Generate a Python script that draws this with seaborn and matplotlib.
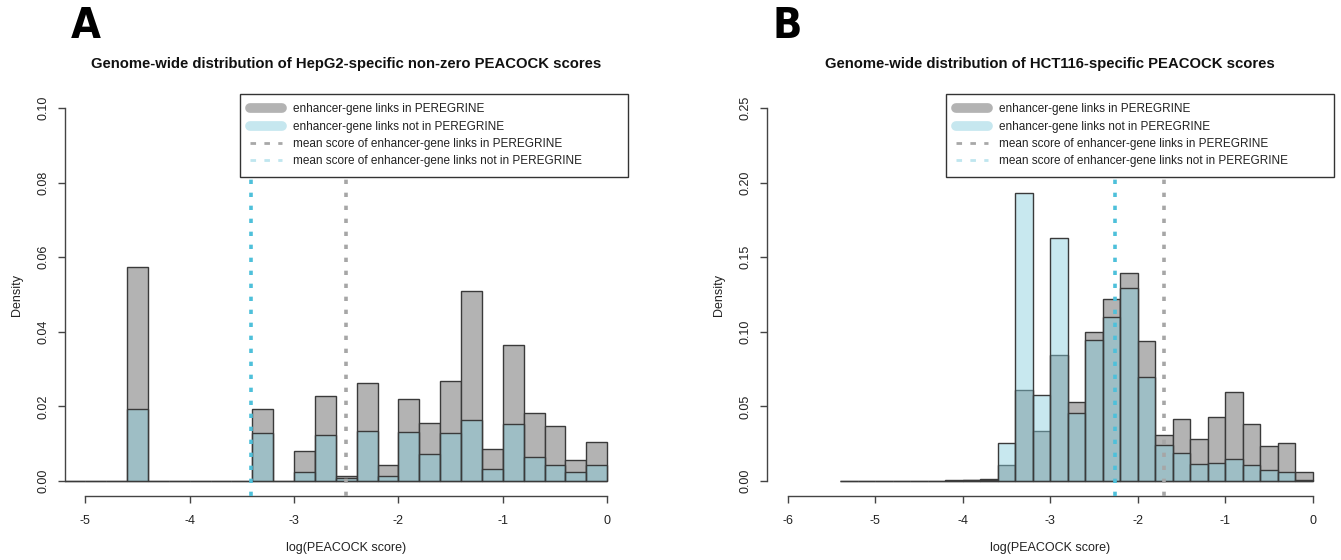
import numpy as np
import pandas as pd
import matplotlib
matplotlib.use("Agg")
import matplotlib.pyplot as plt
import matplotlib.font_manager as fm
import seaborn as sns
from matplotlib.lines import Line2D

sns.set_style("white")
plt.rcParams["font.family"] = ["Liberation Sans", "DejaVu Sans"]

# ---------------- data ----------------
# Panel A: HepG2-specific non-zero PEACOCK scores (bin edges, density per bin)
a_edges = [-5.2, -5.0, -4.8, -4.6, -4.4, -4.2, -4.0, -3.8, -3.6, -3.4, -3.2, -3.0, -2.8,
           -2.6, -2.4, -2.2, -2.0, -1.8, -1.6, -1.4, -1.2, -1.0, -0.8, -0.6, -0.4, -0.2, 0.0]
a_in = [0, 0, 0, 0.0573, 0, 0, 0, 0, 0, 0.0192, 0, 0.0081, 0.0229,
        0.0013, 0.0264, 0.0043, 0.0220, 0.0155, 0.0267, 0.0510, 0.0085, 0.0365,
        0.0182, 0.0147, 0.0057, 0.0106]
a_not = [0, 0, 0, 0.0192, 0, 0, 0, 0, 0, 0.0128, 0, 0.0023, 0.0123,
         0.0008, 0.0135, 0.0013, 0.0132, 0.0072, 0.0128, 0.0165, 0.0032, 0.0153,
         0.0065, 0.0043, 0.0023, 0.0042]
a_mean_in = -2.50
a_mean_not = -3.41

# Panel B: HCT116-specific PEACOCK scores
b_edges = [-5.4, -5.2, -5.0, -4.8, -4.6, -4.4, -4.2, -4.0, -3.8, -3.6, -3.4, -3.2, -3.0, -2.8,
           -2.6, -2.4, -2.2, -2.0, -1.8, -1.6, -1.4, -1.2, -1.0, -0.8, -0.6, -0.4, -0.2, 0.0]
b_in = [0, 0, 0, 0, 0, 0, 0.0004, 0.0008, 0.0015, 0.0109, 0.0608, 0.0334, 0.0844, 0.0528,
        0.0998, 0.1217, 0.1395, 0.0938, 0.0312, 0.0419, 0.0283, 0.0432, 0.0599,
        0.0385, 0.0232, 0.0252, 0.0062]
b_not = [0, 0, 0, 0, 0, 0, 0.0002, 0.0004, 0.0008, 0.0252, 0.1930, 0.0575, 0.1631, 0.0457,
         0.0942, 0.1096, 0.1292, 0.0700, 0.0241, 0.0189, 0.0114, 0.0118, 0.0147,
         0.0107, 0.0071, 0.0060, 0.0008]
b_mean_in = -1.70
b_mean_not = -2.26

a_xticks = [-5, -4, -3, -2, -1, 0]
a_yticks = [0.00, 0.02, 0.04, 0.06, 0.08, 0.10]
b_xticks = [-6, -5, -4, -3, -2, -1, 0]
b_yticks = [0.00, 0.05, 0.10, 0.15, 0.20, 0.25]

title_a = "Genome-wide distribution of HepG2-specific non-zero PEACOCK scores"
title_b = "Genome-wide distribution of HCT116-specific PEACOCK scores"
legend_labels = ["enhancer-gene links in PEREGRINE",
                 "enhancer-gene links not in PEREGRINE",
                 "mean score of enhancer-gene links in PEREGRINE",
                 "mean score of enhancer-gene links not in PEREGRINE"]

# ---------------- style ----------------
W, H = 1341, 560
GRAY = "#B3B3B3"
BLUE_FACE = (133 / 255, 204 / 255, 220 / 255, 0.45)
EDGE = "#3A3A3A"
AXC = "#444444"
TXT = "#222222"


def _weight(w):
    if isinstance(w, (int, float)):
        return int(w)
    return fm.weight_dict.get(str(w).lower(), 400)


def letter_font(size):
    """Heavy condensed face for the panel letters, if one is installed."""
    prefs = ["Noto Sans", "Open Sans", "Roboto", "DejaVu Sans", "Liberation Sans"]
    best = None
    for f in fm.fontManager.ttflist:
        st = str(f.stretch).lower()
        if ("condensed" in st) and _weight(f.weight) >= 700 and "italic" not in str(f.style):
            rank = (prefs.index(f.name) if f.name in prefs else 99, -_weight(f.weight))
            if best is None or rank < best[0]:
                best = (rank, f.fname)
    if best is not None:
        return fm.FontProperties(fname=best[1], size=size)
    return fm.FontProperties(family="DejaVu Sans", weight="heavy", size=size)


fig = plt.figure(figsize=(W / 100, H / 100), dpi=100)


def px_rect(x0, y0, x1, y1):
    return [x0 / W, 1 - y1 / H, (x1 - x0) / W, (y1 - y0) / H]


def panel(rect, edges, v_in, v_not, m_in, m_not, xlim, ylim, xticks, yticks,
          title, letter, letter_x):
    ax = fig.add_axes(px_rect(*rect))
    e = np.asarray(edges, dtype=float)
    centers = (e[:-1] + e[1:]) / 2
    df_in = pd.DataFrame({"score": centers, "density": v_in})
    df_not = pd.DataFrame({"score": centers, "density": v_not})
    bins = list(edges)
    sns.histplot(data=df_in, x="score", weights="density", bins=bins, stat="count",
                 ax=ax, facecolor=GRAY, edgecolor=EDGE, linewidth=1.0, zorder=2)
    sns.histplot(data=df_not, x="score", weights="density", bins=bins, stat="count",
                 ax=ax, facecolor=BLUE_FACE, edgecolor=EDGE, linewidth=1.0, zorder=3)
    ax.axvline(m_in, color="#A6A6A6", lw=2.6, ls=(0, (1.2, 2.4)), zorder=4)
    ax.axvline(m_not, color="#4EC0DA", lw=2.6, ls=(0, (1.2, 2.4)), zorder=4)

    ax.set_xlim(*xlim)
    ax.set_ylim(*ylim)
    ax.set_xticks(xticks)
    ax.set_xticklabels([f"{t:d}" for t in xticks])
    ax.set_yticks(yticks)
    ax.set_yticklabels([f"{t:.2f}" for t in yticks], rotation=90, va="center")
    ax.set_xlabel("")
    ax.set_ylabel("")
    for s in ["top", "right"]:
        ax.spines[s].set_visible(False)
    ax.spines["left"].set_bounds(yticks[0], yticks[-1])
    ax.spines["bottom"].set_bounds(xticks[0], xticks[-1])
    for s in ["left", "bottom"]:
        ax.spines[s].set_color(AXC)
        ax.spines[s].set_linewidth(1.0)
    ax.tick_params(axis="both", direction="out", length=5, width=1.0, color=AXC,
                   labelsize=9, labelcolor=TXT, left=True, bottom=True)
    ax.tick_params(axis="x", pad=8.5)
    ax.tick_params(axis="y", pad=5.5)
    ax.grid(False)

    handles = [Line2D([0], [0], color=GRAY, lw=7, solid_capstyle="round"),
               Line2D([0], [0], color="#C6E7EF", lw=7, solid_capstyle="round"),
               Line2D([0], [0], color="#A8A8A8", lw=2, ls=(0, (2, 3))),
               Line2D([0], [0], color="#BFE6EF", lw=2, ls=(0, (2, 3)))]
    axw = rect[2] - rect[0]
    wf = 388 / axw
    leg = ax.legend(handles, legend_labels, loc="upper left",
                    bbox_to_anchor=(1 - wf, 0, wf, 0.998), mode="expand",
                    borderaxespad=0, frameon=True, fancybox=False, framealpha=1,
                    edgecolor="#333333", fontsize=8.5, handlelength=2.7,
                    handletextpad=0.95, labelspacing=0.44, borderpad=0.82)
    leg.get_frame().set_linewidth(1.0)
    for t in leg.get_texts():
        t.set_color(TXT)
    leg.set_zorder(10)

    cx = (rect[0] + rect[2]) / 2 / W
    fig.text(cx, 1 - 64 / H, title, ha="center", va="center", fontsize=10.7,
             fontweight="bold", color="#111111")
    fig.text(cx, 1 - 548 / H, "log(PEACOCK score)", ha="center", va="center",
             fontsize=9, color=TXT)
    fig.text((rect[0] - 47) / W, 1 - ((rect[1] + rect[3]) / 2) / H, "Density",
             ha="center", va="center", rotation=90, fontsize=9, color=TXT)
    fig.text(letter_x / W, 1 - 26 / H, letter, ha="center", va="center",
             fontproperties=letter_font(31), color="black")
    return ax


panel((64.5, 93, 628, 496), a_edges, a_in, a_not, a_mean_in, a_mean_not,
      (-5.2, 0.2), (-0.004, 0.104), a_xticks, a_yticks, title_a, "A", 85.5)
panel((766.5, 93, 1334, 496), b_edges, b_in, b_not, b_mean_in, b_mean_not,
      (-6.24, 0.24), (-0.01, 0.26), b_xticks, b_yticks, title_b, "B", 787)

fig.savefig("out.png", dpi=100, facecolor="white")
